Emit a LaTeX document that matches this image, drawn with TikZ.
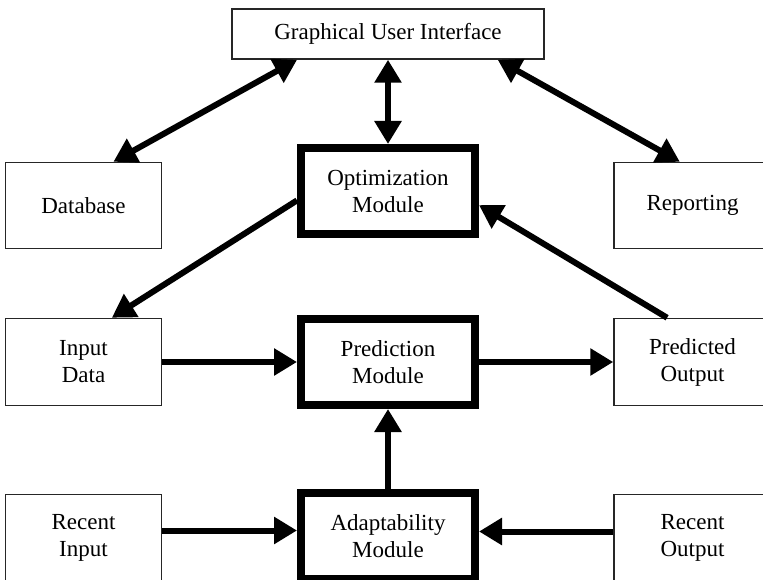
\documentclass[tikz,border=0pt]{standalone}
\usepackage{fontspec}
\setmainfont{Liberation Serif}
\usetikzlibrary{arrows.meta,calc}
\begin{document}
\begin{tikzpicture}[x=1pt,y=-1pt,
  box/.style={draw=black!85, line width=1.5pt, minimum width=156pt, minimum height=86pt,
    align=center, inner sep=0pt, font=\fontsize{23}{27}\selectfont},
  module/.style={draw=black, line width=8pt, minimum width=174pt, minimum height=86pt,
    align=center, inner sep=0pt, font=\fontsize{23}{27}\selectfont},
  head/.style={Triangle[length=23pt,width=26pt]},
  link/.style={line width=6pt, -{Triangle[length=23pt,width=26pt]}},
  biglink/.style={line width=6pt, {Triangle[length=23pt,width=26pt]}-{Triangle[length=23pt,width=26pt]}}]
\useasboundingbox (0,0) rectangle (763,580);
\clip (0,0) rectangle (763,580);

% boxes
\node[box, minimum width=312pt, minimum height=50pt] (gui) at (388,34) {Graphical User Interface};
\node[box] (db) at (83.5,205.5) {Database};
\node[module] (opt) at (388,191) {Optimization\\Module};
\node[box, minimum width=157pt] (rep) at (692.5,205.5) {Reporting};
\node[box, minimum height=87pt] (inp) at (83.5,362) {Input\\Data};
\node[module] (pred) at (388,362) {Prediction\\Module};
\node[box, minimum width=157pt, minimum height=87pt] (pout) at (692.5,362) {Predicted\\Output};
\node[box] (rin) at (83.5,537.5) {Recent\\Input};
\node[module] (adapt) at (388,536) {Adaptability\\Module};
\node[box, minimum width=157pt] (rout) at (692.5,537.5) {Recent\\Output};

% connectors
\draw[biglink] ($(gui.south west)!0.21!(gui.south east)$) -- ($(db.north west)!0.69!(db.north east)$);
\draw[biglink] (gui.south) -- (opt.north);
\draw[biglink] ($(gui.south west)!0.85!(gui.south east)$) -- ($(rep.north west)!0.42!(rep.north east)$);
\draw[link] ($(opt.north west)!0.6!(opt.south west)$) -- ($(inp.north west)!0.68!(inp.north east)$);
\draw[link] ($(pout.north west)!0.34!(pout.north east)$) -- ($(opt.north east)!0.65!(opt.south east)$);
\draw[link] (inp) -- (pred);
\draw[link] (pred) -- (pout);
\draw[link] (adapt) -- (pred);
\draw[link] ([yshift=7pt]rin.east) -- ([yshift=7pt]rin.east -| adapt.west);
\draw[link] ([yshift=6pt]rout.west) -- ([yshift=6pt]rout.west -| adapt.east);
\end{tikzpicture}
\end{document}
